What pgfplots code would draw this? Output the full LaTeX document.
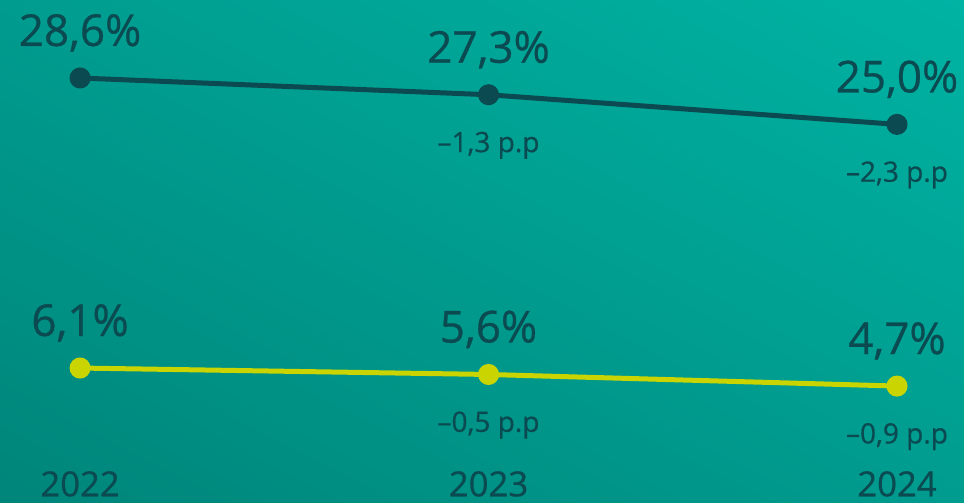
\documentclass[border=0pt]{standalone}
\usepackage{pgfplots}
\pgfplotsset{compat=1.18}
\usetikzlibrary{shadings}
\usepackage{fontspec}
\setmainfont{Open Sans}
\newfontface\medium{Open Sans}[FakeBold=0.6]

\definecolor{bgdark}{HTML}{00857A}
\definecolor{bglight}{HTML}{00B3A3}
\definecolor{bgmid}{HTML}{009C8F}
\definecolor{navy}{HTML}{0B4A50}
\definecolor{lime}{HTML}{C9D400}

\begin{document}
\begin{tikzpicture}
\begin{axis}[
    scale only axis,
    width=723pt, height=377.25pt,
    xmin=2021.804, xmax=2024.164,
    ymin=-4.37, ymax=34.65,
    axis background/.style={shade, lower left=bgdark, upper right=bglight,
        lower right=bgmid, upper left=bgmid},
    hide y axis,
    x axis line style={draw=none},
    major tick style={draw=none},
    xtick={2022,2023,2024},
    xticklabels={2022,2023,2024},
    xticklabel style={anchor=base, yshift=5pt, font=\medium\fontsize{26}{30}\selectfont, text=navy},
    clip=false,
    every node near coord/.append style={text=navy},
]
% top series: value labels
\addplot[navy, line width=3.75pt, mark=*, mark size=6pt,
    point meta=explicit symbolic, nodes near coords,
    nodes near coords style={anchor=base, yshift=24pt, font=\medium\fontsize{33}{36}\selectfont}]
    coordinates {(2022,28.6) [28,6\%] (2023,27.3) [27,3\%] (2024,25.0) [25,0\%]};
% top series: change
\addplot[draw=none, mark=none,
    point meta=explicit symbolic, nodes near coords,
    nodes near coords style={anchor=base, yshift=-43pt, font=\medium\fontsize{21}{24}\selectfont}]
    coordinates {(2023,27.3) [–1,3 p.p] (2024,25.0) [–2,3 p.p]};

% bottom series
\addplot[lime, line width=3.75pt, mark=*, mark size=6pt,
    point meta=explicit symbolic, nodes near coords,
    nodes near coords style={anchor=base, yshift=24pt, font=\medium\fontsize{33}{36}\selectfont}]
    coordinates {(2022,6.1) [6,1\%] (2023,5.6) [5,6\%] (2024,4.7) [4,7\%]};
\addplot[draw=none, mark=none,
    point meta=explicit symbolic, nodes near coords,
    nodes near coords style={anchor=base, yshift=-43pt, font=\medium\fontsize{21}{24}\selectfont}]
    coordinates {(2023,5.6) [–0,5 p.p] (2024,4.7) [–0,9 p.p]};
\end{axis}
\pgfresetboundingbox
\path[use as bounding box] (current axis.south west) rectangle (current axis.north east);
\end{tikzpicture}
\end{document}
